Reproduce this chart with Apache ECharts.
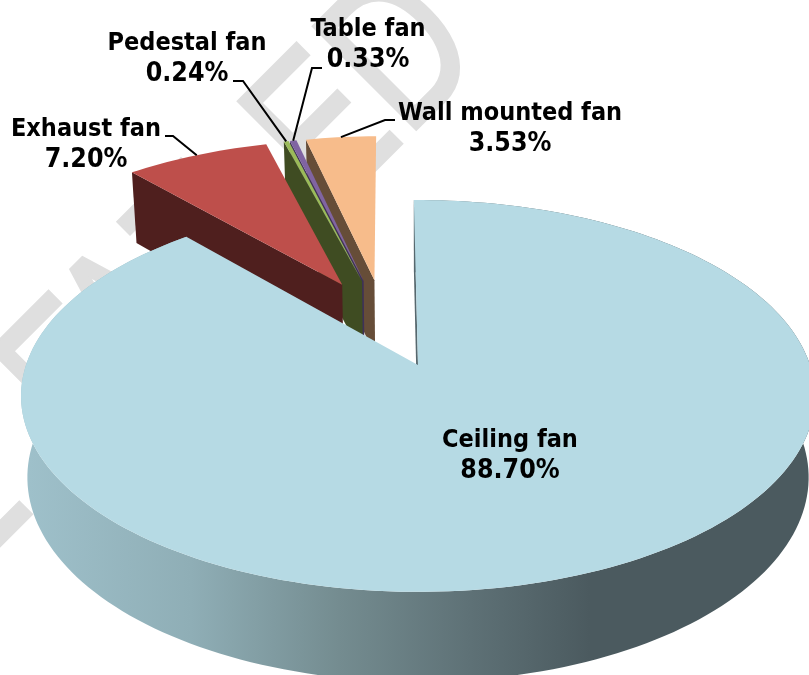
<!DOCTYPE html>
<html>
<head>
<meta charset="utf-8">
<style>html,body{margin:0;padding:0;background:#fff}#chart{width:809px;height:675px}</style>
<script src="https://cdn.jsdelivr.net/npm/echarts@6/dist/echarts.min.js"></script>
</head>
<body>
<div id="chart"></div>
<script>
// Fan market share, drawn as an exploded 3D pie.
const categories = ['Ceiling fan', 'Exhaust fan', 'Pedestal fan', 'Table fan', 'Wall mounted fan'];
const shares = [88.70, 7.20, 0.24, 0.33, 3.53];
const topColors = ['#B6DAE4', '#BE4F4B', '#9BBB59', '#8064A2', '#F7BC8B'];
const faceColors = ['#56686E', '#4F1F1E', '#3F4C22', '#3E3159', '#664D38'];
const labelPlacement = [
  { x: 510, y: 456 },
  { x: 86, y: 145, elbow: [[165, 136], [173, 136]] },
  { x: 187, y: 59, elbow: [[233, 81], [243, 81]] },
  { x: 368, y: 45, elbow: [[322, 68], [312, 68]] },
  { x: 510, y: 129, elbow: [[395, 120], [385, 120]] }
];
// Background stamp: glyphs placed along a diagonal, s = distance along its baseline.
const stampLetters = ['L', 'E', 'A', 'T', 'E', 'D'];
const stampOffsets = [-40, 117, 199, 307, 468, 574];

// Projection of the pie's unit disc: origin at the tip of the largest slice.
const view = { x: 418, y: 365, rx: 392, ry: 191, tilt: 0.158, depth: 80, depthTilt: 0.11, shrink: 0.016 };
const startAngle = -0.7;
const explode = 0.248;
const total = shares.reduce((a, b) => a + b, 0);

function project(u, v, z) {
  const w = 1 - view.tilt * v;
  return [
    view.x + view.rx * u / w * (1 - view.shrink * z),
    view.y + view.ry * v / w + z * view.depth / (1 - view.depthTilt * v)
  ];
}

const spans = [];
shares.reduce((from, s) => {
  const to = from + s / total * 360;
  spans.push([from, to]);
  return to;
}, startAngle);

const toRad = d => d * Math.PI / 180;
const midOffset = i => {
  const m = toRad((spans[i][0] + spans[i][1]) / 2);
  return [explode * Math.sin(m), -explode * Math.cos(m)];
};
const base = midOffset(0);
const sliceOrigin = i => {
  const o = midOffset(i);
  return [o[0] - base[0], o[1] - base[1]];
};
const rimPoint = (i, deg, z) => {
  const o = sliceOrigin(i), a = toRad(deg);
  return project(o[0] + Math.sin(a), o[1] - Math.cos(a), z);
};
function arc(i, z) {
  const pts = [];
  const [a, b] = spans[i];
  const n = Math.max(4, Math.ceil((b - a) / 1.5));
  for (let k = 0; k <= n; k++) pts.push(rimPoint(i, a + (b - a) * k / n, z));
  return pts;
}

const rimShade = new echarts.graphic.LinearGradient(20, 0, 590, 0, [
  { offset: 0, color: '#9FC1CB' },
  { offset: 0.3, color: '#8FAEB6' },
  { offset: 0.56, color: '#748C90' },
  { offset: 0.79, color: '#5E7176' },
  { offset: 1, color: '#4B5A5F' }
], true);

function renderSlice(params, api) {
  const i = api.value(0);
  const order = (shares.length - i) * 10;
  const o = sliceOrigin(i);
  const tipTop = project(o[0], o[1], 0);
  const tipBottom = project(o[0], o[1], 1);
  const topArc = arc(i, 0);
  const children = [];
  // Only the large slice shows its curved rim; the others turn it away from the viewer.
  if (i === 0) {
    children.push({
      type: 'polygon', z2: order,
      shape: { points: topArc.concat(arc(i, 1).reverse()) },
      style: { fill: rimShade }
    });
  }
  children.push({
    type: 'polygon', z2: order + 1,
    shape: { points: [tipTop, rimPoint(i, spans[i][0], 0), rimPoint(i, spans[i][0], 1), tipBottom] },
    style: { fill: faceColors[i] }
  }, {
    type: 'polygon', z2: order + 2,
    shape: { points: [tipTop].concat(topArc) },
    style: { fill: topColors[i] }
  });
  const place = labelPlacement[i];
  if (place.elbow) {
    const m = (spans[i][0] + spans[i][1]) / 2;
    children.push({
      type: 'polyline', z2: 200,
      shape: { points: place.elbow.concat([rimPoint(i, m, 0)]) },
      style: { fill: 'none', stroke: '#000', lineWidth: 2 }
    });
  }
  children.push({
    type: 'text', z2: 201,
    style: {
      x: place.x, y: place.y,
      text: '{n|' + categories[i] + '}\n{v|' + shares[i].toFixed(2) + '%}',
      align: 'center', verticalAlign: 'middle',
      rich: {
        n: { fontFamily: '"DejaVu Sans Condensed", "DejaVu Sans"', fontWeight: 'bold', fontSize: 25, lineHeight: 31, fill: '#000', align: 'center' },
        v: { fontFamily: '"DejaVu Sans Condensed", "DejaVu Sans"', fontWeight: 'bold', fontSize: 26.5, lineHeight: 31, fill: '#000', align: 'center' }
      }
    }
  });
  return { type: 'group', children };
}

const stampGraphics = stampLetters.map((ch, k) => ({
  type: 'text', z: -10, silent: true,
  x: stampOffsets[k] * Math.SQRT1_2 - 40,
  y: 543 - stampOffsets[k] * Math.SQRT1_2 - 40,
  rotation: Math.PI / 4,
  scaleX: 0.75,
  style: {
    text: ch, align: 'left', verticalAlign: 'middle',
    fontFamily: '"Liberation Sans"', fontSize: 210, fill: '#DFDFDF',
    stroke: '#DFDFDF', lineWidth: 4
  }
}));

const chart = echarts.init(document.getElementById('chart'), null, { renderer: 'canvas' });
chart.setOption({
  animation: false,
  backgroundColor: '#fff',
  graphic: stampGraphics,
  series: [{
    type: 'custom',
    coordinateSystem: 'none',
    clip: false,
    renderItem: renderSlice,
    data: shares.map((s, i) => [i, s])
  }]
});
</script>
</body>
</html>
